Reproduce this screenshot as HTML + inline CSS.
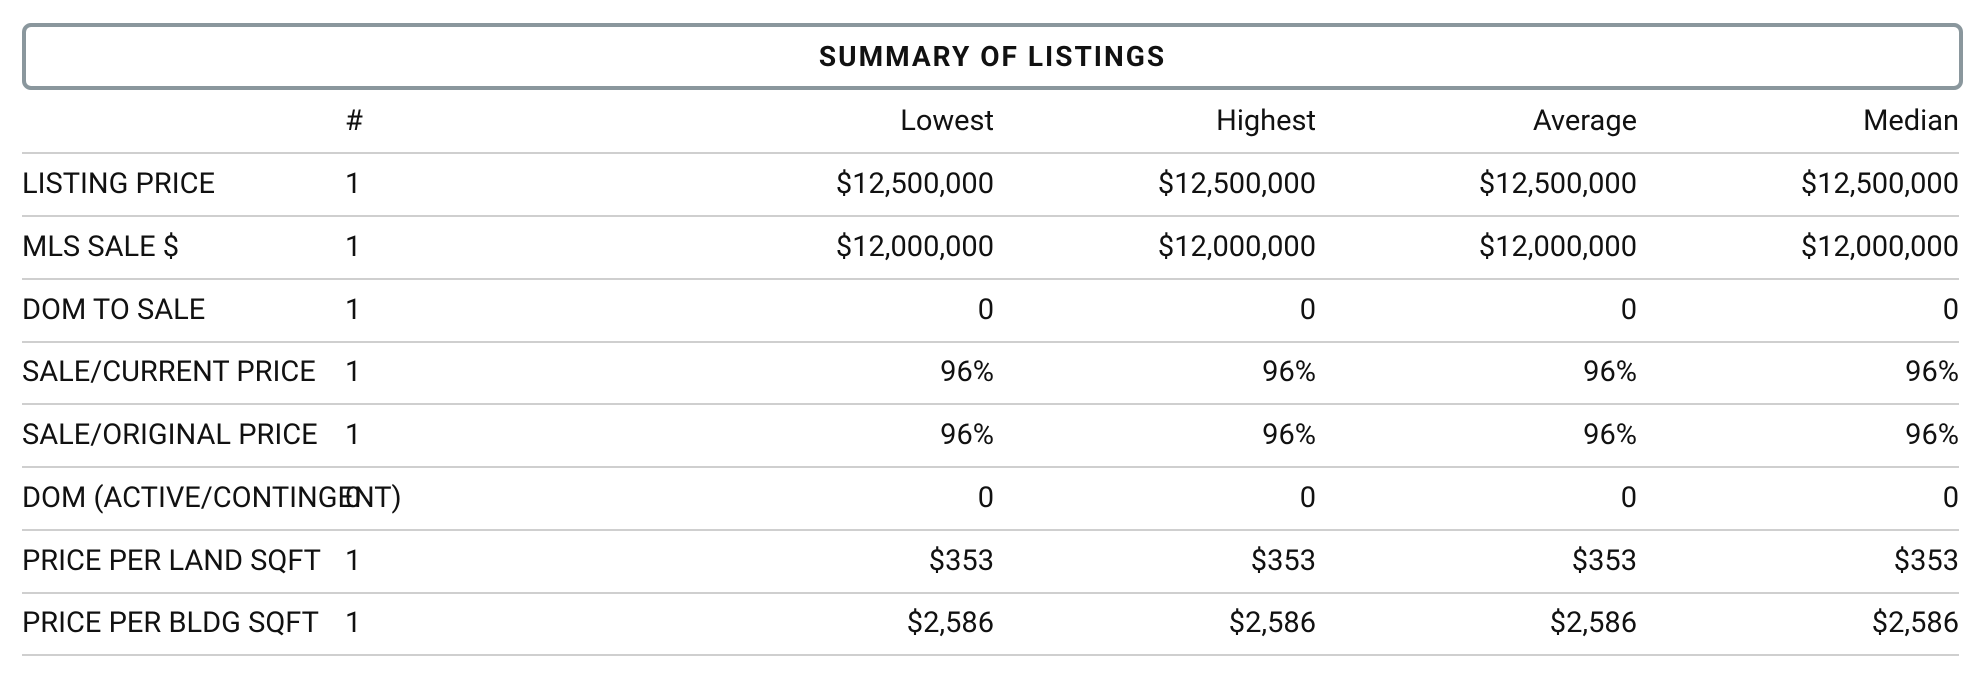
<!DOCTYPE html>
<html><head><meta charset="utf-8"><style>
body{margin:0;width:1984px;height:682px;background:#fff;position:relative;overflow:hidden;font-family:"Roboto","Liberation Sans",sans-serif;color:#111}
.box{position:absolute;left:22px;top:23px;width:1933px;height:59px;border:4px solid #8a979d;border-radius:9px;box-sizing:content-box}
.title{position:absolute;left:0;right:0;top:0;height:59px;line-height:59px;text-align:center;font-weight:bold;font-size:28px;letter-spacing:2px}
.row{position:absolute;left:22px;width:1937px;height:62px;border-bottom:2px solid #cfcfcf}
.c{position:absolute;top:0;height:62px;line-height:62px;font-size:29px;white-space:nowrap}
.l{left:0}.n{left:323px}
.v1,.v2,.v3,.v4{text-align:right;width:300px}
.v1{left:672px}.v2{left:994px}.v3{left:1315px}.v4{left:1637px}
.hdr{border-bottom:2px solid #cfcfcf}
</style></head><body>
<div class="box"><div class="title">SUMMARY OF LISTINGS</div></div>
<div class="row" style="top:90px">
<div class="c n">#</div>
<div class="c v1">Lowest</div>
<div class="c v2">Highest</div>
<div class="c v3">Average</div>
<div class="c v4">Median</div>
</div>
<div id="rows"></div>
<script>
const labels=["LISTING PRICE","MLS SALE $","DOM TO SALE","SALE/CURRENT PRICE","SALE/ORIGINAL PRICE","DOM (ACTIVE/CONTINGENT)","PRICE PER LAND SQFT","PRICE PER BLDG SQFT"];
const counts=["1","1","1","1","1","0","1","1"];
const lowest=["$12,500,000","$12,000,000","0","96%","96%","0","$353","$2,586"];
const highest=["$12,500,000","$12,000,000","0","96%","96%","0","$353","$2,586"];
const average=["$12,500,000","$12,000,000","0","96%","96%","0","$353","$2,586"];
const median=["$12,500,000","$12,000,000","0","96%","96%","0","$353","$2,586"];
const root=document.getElementById('rows');
labels.forEach((lab,i)=>{
  const r=document.createElement('div');
  r.className='row';
  r.style.top=(153+i*62.75)+'px';
  
  
  const cells=[['l',lab,'label'],['n',counts[i],'count'],['v1',lowest[i],'lowest'],['v2',highest[i],'highest'],['v3',average[i],'average'],['v4',median[i],'median']];
  cells.forEach(([cls,txt,nm])=>{
    const c=document.createElement('div');
    c.className='c '+cls;
    c.textContent=txt;
    
    
    r.appendChild(c);
  });
  root.appendChild(r);
});
</script>
</body></html>
